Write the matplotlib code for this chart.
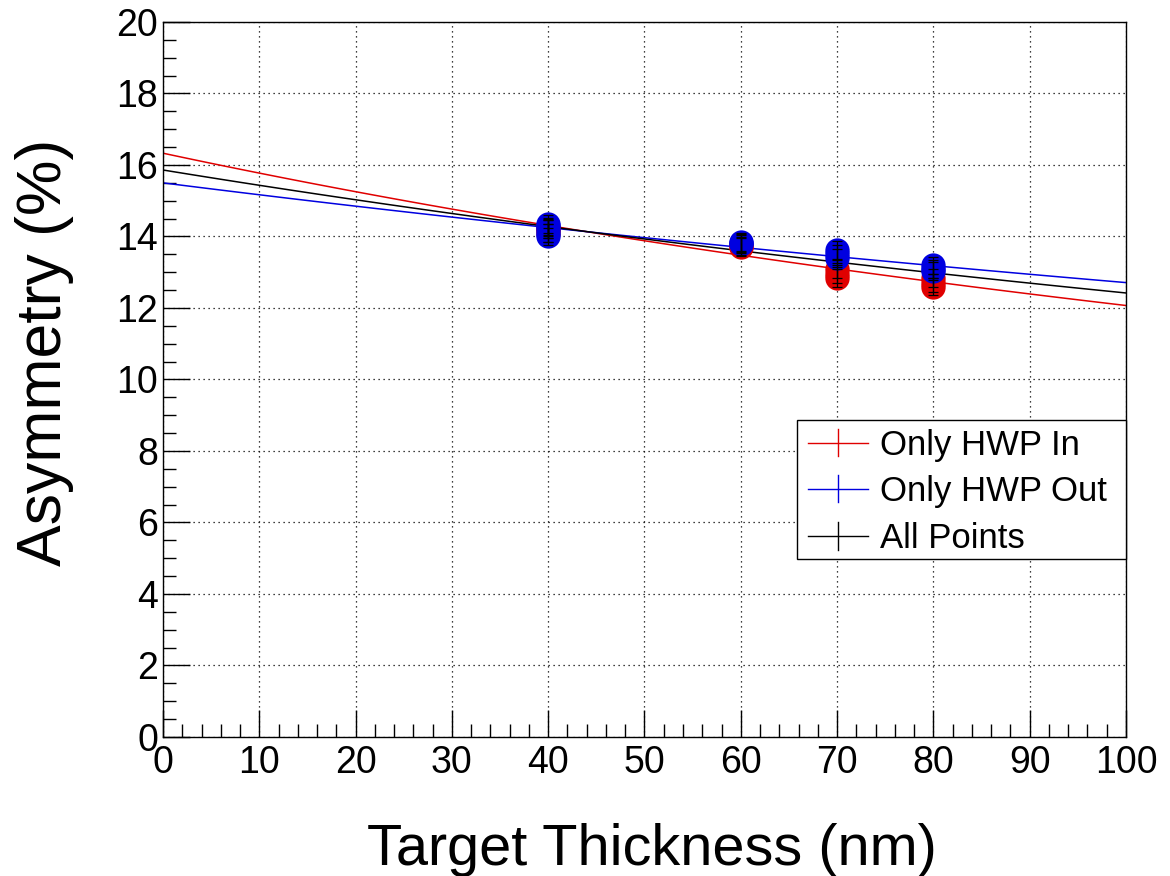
import matplotlib
matplotlib.use("Agg")
import matplotlib.pyplot as plt
import numpy as np
from matplotlib.ticker import MultipleLocator
from matplotlib.lines import Line2D
from matplotlib.patches import Rectangle

plt.rcParams['font.family'] = ['Liberation Sans', 'DejaVu Sans']

# Data
in_x = [40, 40, 40, 60, 60, 70, 70, 70, 80, 80, 80]
in_y = [14.1, 14.2, 14.25, 13.7, 13.74, 12.84, 12.95, 13.1, 12.6, 12.7, 12.85]
in_err = [0.25] * len(in_x)

out_x = [40, 40, 40, 40, 40, 60, 60, 60, 70, 70, 70, 80, 80, 80]
out_y = [14.0, 14.1, 14.2, 14.28, 14.36, 13.78, 13.82, 13.85, 13.4, 13.5, 13.62, 13.03, 13.1, 13.19]
out_err = [0.25] * len(out_x)

# Fitted curves A(t) = A0 / (1 + alpha * t), parameters
fit_in = (16.33, 0.00353)
fit_out = (15.50, 0.002195)
fit_all = (15.86, 0.00277)

labels = ["Only HWP In", "Only HWP Out", "All Points"]
colors = ["#e00000", "#0000e0", "black"]

fig = plt.figure(figsize=(11.7, 8.76), dpi=100)
ax = fig.add_axes([0.1393, 0.1587, 0.8231, 0.8162])

xx = np.linspace(0, 100, 101)
for (a0, al), c in zip([fit_in, fit_out, fit_all], colors):
    ax.plot(xx, a0 / (1 + al * xx), '-', color=c, lw=1.1, zorder=2)

ax.plot(in_x, in_y, 'o', color=colors[0], ms=17.5, mec='none', zorder=3)
ax.plot(out_x, out_y, 'o', color=colors[1], ms=17.5, mec='none', zorder=4)

all_x = in_x + out_x
all_y = in_y + out_y
all_err = in_err + out_err
ax.errorbar(all_x, all_y, yerr=all_err, fmt='none', ecolor='black',
            elinewidth=0.9, capsize=3.5, capthick=0.9, zorder=5)

ax.set_xlim(0, 100)
ax.set_ylim(0, 20)
ax.xaxis.set_major_locator(MultipleLocator(10))
ax.xaxis.set_minor_locator(MultipleLocator(2))
ax.yaxis.set_major_locator(MultipleLocator(2))
ax.yaxis.set_minor_locator(MultipleLocator(0.5))
ax.tick_params(which='both', direction='in', top=False, right=False,
               labelsize=27, width=1)
ax.tick_params(which='major', length=19.5)
ax.tick_params(which='minor', length=9.7)
ax.tick_params(axis='x', pad=6)
ax.grid(True, which='major', linestyle=(0, (1, 3)), color='black', lw=0.9)
for s in ax.spines.values():
    s.set_linewidth(1)

ax.set_xlabel("Target Thickness (nm)", fontsize=41.5)
ax.xaxis.set_label_coords(0.508, -0.120)
ax.set_ylabel("Asymmetry (%)", fontsize=45)
ax.yaxis.set_label_coords(-0.092, 0.538)

# Legend box (ROOT TLegend style), in axes-fraction coordinates
box = Rectangle((0.6584, 0.249), 1.0 - 0.6584, 0.4434 - 0.249,
                transform=ax.transAxes, facecolor='white', edgecolor='black',
                lw=1, zorder=10, clip_on=False)
ax.add_patch(box)
row_y = [0.4112, 0.3469, 0.2811]
for lab, c, ry in zip(labels, colors, row_y):
    ax.add_line(Line2D([0.6698, 0.7321], [ry, ry], transform=ax.transAxes,
                       color=c, lw=1, zorder=11, clip_on=False))
    ax.add_line(Line2D([0.7009, 0.7009], [ry - 0.0189, ry + 0.0189],
                       transform=ax.transAxes, color=c, lw=1, zorder=11,
                       clip_on=False))
    ax.text(0.7446, ry - 0.0174, lab, transform=ax.transAxes, fontsize=25,
            va='baseline', ha='left', zorder=12)

fig.savefig("out.png", dpi=100)
